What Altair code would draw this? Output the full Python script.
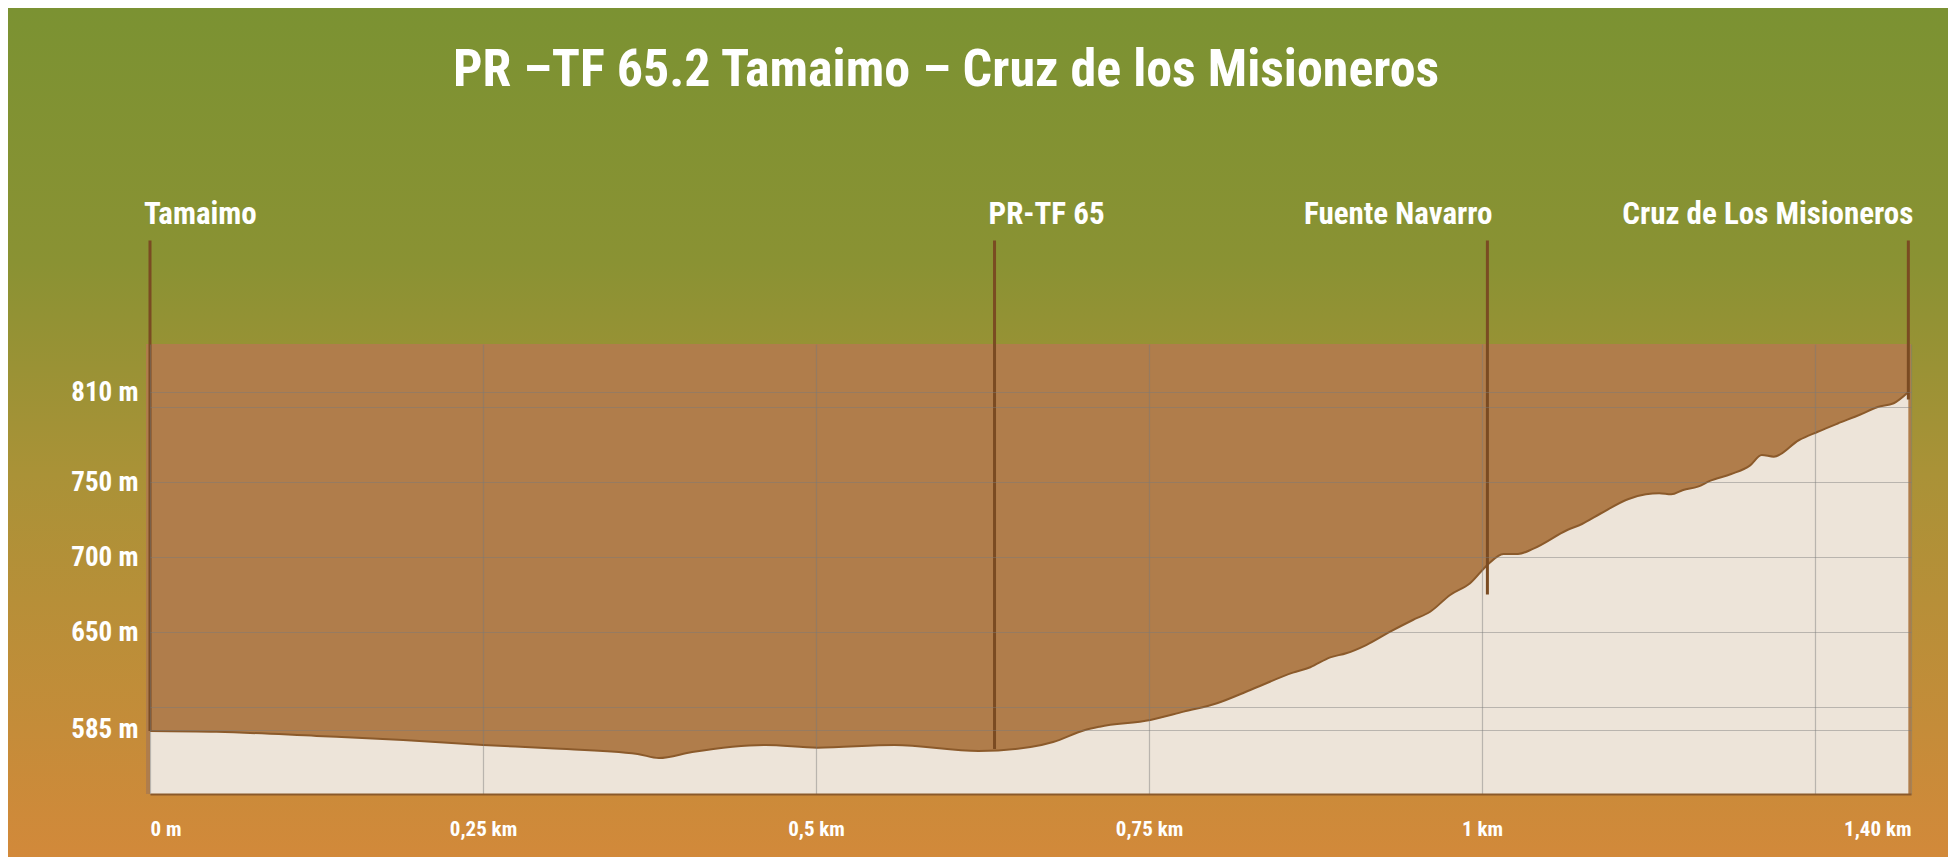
import altair as alt
import pandas as pd

# Perfil: distancia recorrida (km) y altitud (m)
dist_km = [0.000, 0.050, 0.125, 0.190, 0.250, 0.300, 0.366, 0.382, 0.407, 0.462,
           0.501, 0.559, 0.622, 0.661, 0.678, 0.702, 0.713, 0.751, 0.776, 0.801,
           0.826, 0.858, 0.871, 0.886, 0.898, 0.913, 0.931, 0.948, 0.961, 0.976,
           0.991, 1.004, 1.016, 1.027, 1.039, 1.064, 1.075, 1.089, 1.110, 1.123,
           1.133, 1.142, 1.151, 1.162, 1.171, 1.187, 1.201, 1.210, 1.219, 1.238,
           1.252, 1.267, 1.284, 1.297, 1.309, 1.320]
alt_m = [584.0, 583.5, 580.7, 578.0, 574.7, 572.5, 568.7, 566.0, 570.0, 574.7,
         572.9, 574.7, 570.7, 573.3, 576.7, 584.7, 586.9, 591.3, 596.9, 602.5,
         611.3, 622.9, 626.5, 633.1, 635.8, 641.3, 650.2, 658.0, 663.5, 674.7,
         682.5, 694.7, 702.0, 702.0, 705.8, 718.0, 722.0, 729.0, 738.7, 741.8,
         742.5, 741.8, 744.7, 746.9, 750.7, 755.3, 760.9, 768.0, 766.9, 778.0,
         783.5, 789.0, 795.0, 800.0, 802.5, 810.0]

# Puntos de paso (postes)
pole_names = ["Tamaimo", "PR-TF 65", "Fuente Navarro", "Cruz de Los Misioneros"]
pole_km = [0.0, 0.634, 1.004, 1.320]
pole_foot_m = [584.0, 572.0, 675.0, 805.0]
pole_top_m = 911.0
pole_label_m = 922.0

# Ejes
y_label_vals = [585, 650, 700, 750, 810]
y_grid_vals = [585, 600, 650, 700, 750, 800, 810]
x_tick_vals = [0, 0.25, 0.5, 0.75, 1.0, 1.25, 1.322]
x_tick_text = ["0 m", "0,25 km", "0,5 km", "0,75 km", "1 km", "", "1,40 km"]

TITLE = "PR –TF 65.2 Tamaimo – Cruz de los Misioneros"

FONT = "Liberation Sans Narrow, Roboto Condensed, DejaVu Sans Condensed, sans-serif"
W, H = 1761, 450
PAD = {"left": 142, "top": 336, "right": 37, "bottom": 63}

profile = pd.DataFrame({"km": dist_km, "m": alt_m})
poles = pd.DataFrame({
    "name": pole_names,
    "km": pole_km,
    "foot": pole_foot_m,
    "top": [pole_top_m] * len(pole_km),
    "lab": [pole_label_m] * len(pole_km),
})

x_scale = alt.Scale(domain=[0, 1.322], nice=False)
y_scale = alt.Scale(domain=[542, 842], nice=False, zero=False)

# etiqueta del eje x: expresion encadenada valor -> texto
x_expr = "''"
for v, t in reversed(list(zip(x_tick_vals, x_tick_text))):
    x_expr = f"datum.value == {v} ? '{t}' : ({x_expr})"
y_expr = "indexof(" + str(y_label_vals) + ", datum.value) >= 0 ? datum.value + ' m' : ''"

x_axis = alt.Axis(values=x_tick_vals, labelExpr=x_expr, grid=True, ticks=False,
                  domain=True, domainColor="#8b5a2b", domainWidth=2,
                  labelFont=FONT, labelFontWeight="bold", labelFontSize=21,
                  labelColor="white", labelPadding=24, labelFlush=True,
                  gridColor="#7a7a7a", gridOpacity=0.45, gridWidth=1.2, zindex=1)
y_axis = alt.Axis(values=y_grid_vals, labelExpr=y_expr, grid=True, ticks=False,
                  domain=False, labelFont=FONT, labelFontWeight="bold",
                  labelFontSize=27, labelColor="white", labelPadding=12,
                  gridColor="#7a7a7a", gridOpacity=0.45, gridWidth=1.2, zindex=1)

one = pd.DataFrame({"a": [0]})

gradient = alt.LinearGradient(
    gradient="linear", x1=0, x2=0, y1=0, y2=1,
    stops=[
        alt.GradientStop(color="#7b9232", offset=0),
        alt.GradientStop(color="#8a9233", offset=0.3),
        alt.GradientStop(color="#aa9237", offset=0.55),
        alt.GradientStop(color="#d2893a", offset=1),
    ],
)

bg = alt.Chart(one).mark_rect(fill=gradient).encode(
    x=alt.value(-PAD["left"]), x2=alt.value(W + PAD["right"]),
    y=alt.value(-PAD["top"]), y2=alt.value(H + PAD["bottom"]),
)

box = alt.Chart(one).mark_rect(color="#b07d4b").encode(
    x=alt.value(-4), x2=alt.value(W), y=alt.value(0), y2=alt.value(H),
)

area = alt.Chart(profile).mark_area(color="#ede4d9", interpolate="monotone").encode(
    x=alt.X("km:Q", scale=x_scale, axis=x_axis, title=None),
    y=alt.Y("m:Q", scale=y_scale, axis=y_axis, title=None),
    y2=alt.datum(542),
)

line = alt.Chart(profile).mark_line(color="#8b5a2b", strokeWidth=2,
                                    interpolate="monotone").encode(
    x=alt.X("km:Q", title=None),
    y=alt.Y("m:Q", title=None),
)

rules = alt.Chart(poles).mark_rule(color="#7a4b22", strokeWidth=3).encode(
    x=alt.X("km:Q", title=None),
    y=alt.Y("top:Q", title=None),
    y2="foot:Q",
)

labels_left = alt.Chart(poles).transform_filter("datum.km < 0.8").mark_text(
    align="left", baseline="alphabetic", dx=-6, font=FONT, fontWeight="bold",
    fontSize=31, color="white",
).encode(x=alt.X("km:Q", title=None), y=alt.Y("lab:Q", title=None), text="name:N")

labels_right = alt.Chart(poles).transform_filter("datum.km >= 0.8").mark_text(
    align="right", baseline="alphabetic", dx=5, font=FONT, fontWeight="bold",
    fontSize=31, color="white",
).encode(x=alt.X("km:Q", title=None), y=alt.Y("lab:Q", title=None), text="name:N")

title = alt.Chart(pd.DataFrame({"t": [TITLE]})).mark_text(
    align="center", baseline="alphabetic", font=FONT, fontWeight="bold",
    fontSize=52, color="white",
).encode(x=alt.value(796), y=alt.value(-258), text="t:N")

chart = (
    alt.layer(bg, box, area, line, rules, labels_left, labels_right, title)
    .properties(width=W, height=H, autosize=alt.AutoSizeParams(type="none"),
                padding=PAD)
    .configure_view(strokeWidth=0)
)

chart.save("out.html", embed_options={"renderer": "svg", "actions": False})
